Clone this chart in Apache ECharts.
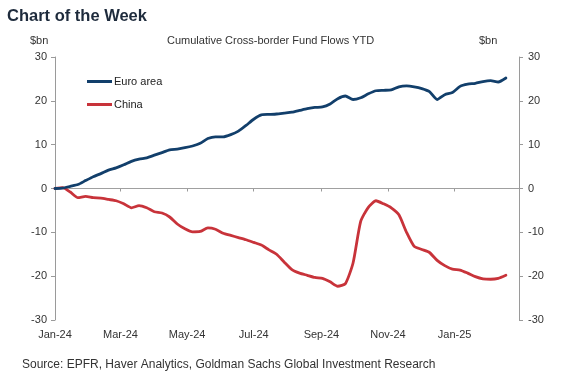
<!DOCTYPE html>
<html>
<head>
<meta charset="utf-8">
<script src="https://cdn.jsdelivr.net/npm/echarts@6/dist/echarts.min.js"></script>
<style>
html,body{margin:0;padding:0;background:#fff;}
#chart{width:567px;height:381px;}
</style>
</head>
<body>
<div id="chart"></div>
<script>
const dates = [
  "2024-01-01","2024-01-08","2024-01-15","2024-01-22","2024-01-29",
  "2024-02-05","2024-02-12","2024-02-19","2024-02-26",
  "2024-03-04","2024-03-11","2024-03-18","2024-03-25",
  "2024-04-01","2024-04-08","2024-04-15","2024-04-22","2024-04-29",
  "2024-05-06","2024-05-13","2024-05-20","2024-05-27",
  "2024-06-03","2024-06-10","2024-06-17","2024-06-24",
  "2024-07-01","2024-07-08","2024-07-15","2024-07-22","2024-07-29",
  "2024-08-05","2024-08-12","2024-08-19","2024-08-26",
  "2024-09-02","2024-09-09","2024-09-16","2024-09-23","2024-09-30",
  "2024-10-07","2024-10-14","2024-10-21","2024-10-28",
  "2024-11-04","2024-11-11","2024-11-18","2024-11-25",
  "2024-12-02","2024-12-09","2024-12-16","2024-12-23","2024-12-30",
  "2025-01-06","2025-01-13","2025-01-20","2025-01-27",
  "2025-02-03","2025-02-10","2025-02-17"
];
const euroArea = [
  0, 0.1, 0.5, 0.9, 1.8, 2.7, 3.4, 4.2, 4.7, 5.4,
  6.2, 6.7, 7.0, 7.6, 8.2, 8.8, 9.0, 9.3, 9.7, 10.3,
  11.4, 11.8, 11.8, 12.3, 13.1, 14.4, 15.8, 16.8, 16.9, 17.0,
  17.2, 17.4, 17.8, 18.2, 18.5, 18.6, 19.3, 20.5, 21.1, 20.3,
  20.7, 21.6, 22.3, 22.4, 22.5, 23.2, 23.4, 23.2, 22.8, 22.1,
  20.3, 21.4, 21.9, 23.3, 23.8, 24.0, 24.4, 24.6, 24.3, 25.2
];
const china = [
  0, 0.2, -0.8, -2.1, -1.8, -2.1, -2.2, -2.5, -2.8, -3.5,
  -4.4, -3.9, -4.4, -5.3, -5.6, -6.5, -8.1, -9.2, -9.9, -9.8,
  -9.0, -9.3, -10.2, -10.7, -11.2, -11.7, -12.3, -12.9, -14.0, -15.0,
  -16.8, -18.5, -19.3, -19.8, -20.3, -20.5, -21.3, -22.3, -21.7, -17.0,
  -7.5, -4.3, -2.8, -3.5, -4.4, -6.0, -10.0, -13.2, -13.9, -14.6,
  -16.4, -17.6, -18.4, -18.6, -19.3, -20.1, -20.6, -20.7, -20.5, -19.8
];
const seriesNames = ["Euro area", "China"];
const yTicks = {min: -30, max: 30, interval: 10};
const xRange = {min: "2024-01-01", max: "2025-03-01"};
const monthNames = ["Jan","Feb","Mar","Apr","May","Jun","Jul","Aug","Sep","Oct","Nov","Dec"];

const pairs = (vals) => vals.map((v, i) => [dates[i], v]);
const axisGray = "#9a9a9a";
const labelFont = "Liberation Sans, Arial, sans-serif";
const maxTime = new Date(xRange.max).getTime();

const chart = echarts.init(document.getElementById("chart"), null, {renderer: "canvas"});
const DAY = 24 * 3600 * 1000;
const titleBase = {padding: 0};
chart.setOption({
  animation: false,
  backgroundColor: "#fff",
  title: [
    Object.assign({text: "Chart of the Week", left: 7, top: 8,
     textStyle: {fontFamily: labelFont, fontWeight: "bold", fontSize: 16.5, color: "#1e2b3c", letterSpacing: -0.4}}, titleBase),
    Object.assign({text: "$bn", left: 30, top: 35,
     textStyle: {fontFamily: labelFont, fontWeight: "normal", fontSize: 11, color: "#333"}}, titleBase),
    Object.assign({text: "Cumulative Cross-border Fund Flows YTD", left: 167, top: 35,
     textStyle: {fontFamily: labelFont, fontWeight: "normal", fontSize: 11, color: "#333", letterSpacing: -0.6}}, titleBase),
    Object.assign({text: "$bn", left: 479, top: 35,
     textStyle: {fontFamily: labelFont, fontWeight: "normal", fontSize: 11, color: "#333"}}, titleBase),
    Object.assign({text: "Source: EPFR, Haver Analytics, Goldman Sachs Global Investment Research", left: 22, top: 359,
     textStyle: {fontFamily: labelFont, fontWeight: "normal", fontSize: 12, color: "#333"}}, titleBase)
  ],
  legend: {
    orient: "vertical", left: 87, top: 75, padding: 0,
    itemWidth: 25, itemHeight: 3, itemGap: 10, icon: "rect",
    textStyle: {fontFamily: labelFont, fontSize: 11, color: "#222", padding: [0, 0, 0, -3], lineHeight: 13},
    data: seriesNames
  },
  grid: {left: 55, right: 48, top: 57, bottom: 61},
  xAxis: {
    type: "time",
    min: xRange.min, max: xRange.max,
    minInterval: 75 * DAY, maxInterval: 75 * DAY,
    axisLine: {show: false},
    axisTick: {show: true, length: 3, lineStyle: {color: axisGray}},
    splitLine: {show: false},
    axisLabel: {
      fontFamily: labelFont, fontSize: 11, color: "#333", margin: 9,
      hideOverlap: false, showMinLabel: true,
      formatter: function (val) {
        if (val >= maxTime) return "";
        const d = new Date(val);
        return monthNames[d.getMonth()] + "-" + String(d.getFullYear()).slice(2);
      }
    }
  },
  yAxis: [
    {type: "value", position: "left", min: yTicks.min, max: yTicks.max, interval: yTicks.interval,
     axisLine: {show: true, lineStyle: {color: axisGray}},
     axisTick: {show: true, length: 4, lineStyle: {color: axisGray}},
     splitLine: {show: false},
     axisLabel: {fontFamily: labelFont, fontSize: 11, color: "#333", margin: 8}},
    {type: "value", position: "right", min: yTicks.min, max: yTicks.max, interval: yTicks.interval,
     axisLine: {show: true, lineStyle: {color: axisGray}},
     axisTick: {show: true, length: 4, lineStyle: {color: axisGray}},
     splitLine: {show: false},
     axisLabel: {fontFamily: labelFont, fontSize: 11, color: "#333", margin: 9}}
  ],
  series: [
    {name: seriesNames[0], type: "line", data: pairs(euroArea), symbol: "none", smooth: 0.2,
     color: "#123f6b", lineStyle: {width: 2.8, color: "#123f6b", cap: "round", join: "round"}, z: 3,
     markLine: {silent: true, symbol: "none", label: {show: false},
       lineStyle: {color: "#a0a0a0", width: 1, type: "solid"}, data: [{yAxis: 0}], z: 1}},
    {name: seriesNames[1], type: "line", data: pairs(china), symbol: "none", smooth: 0.2,
     color: "#c8333a", lineStyle: {width: 2.8, color: "#c8333a", cap: "round", join: "round"}, z: 2}
  ]
});
</script>
</body>
</html>
